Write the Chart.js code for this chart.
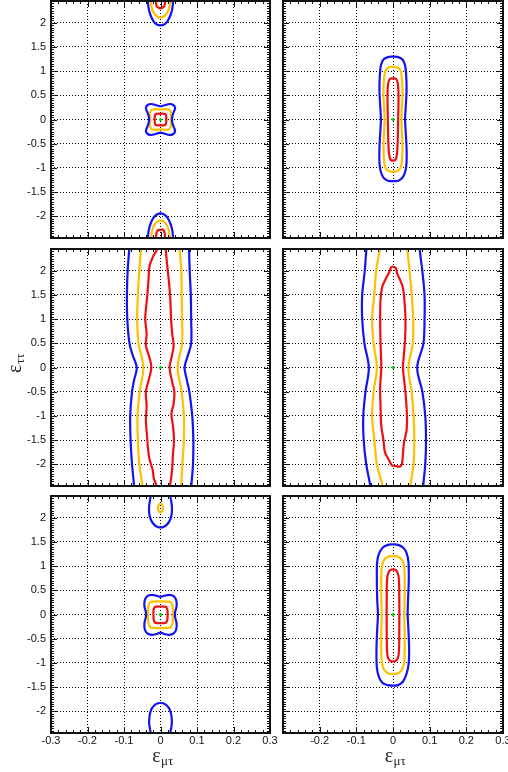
<!DOCTYPE html>
<html>
<head>
<meta charset="utf-8">
<script src="https://cdn.jsdelivr.net/npm/chart.js@4.4.1/dist/chart.umd.min.js"></script>
<style>
  html, body { margin: 0; padding: 0; background: #fff; }
  #wrap { position: relative; width: 508px; height: 772px; overflow: hidden; }
  #wrap canvas { position: absolute; left: 0; top: 0; }
</style>
</head>
<body>
<div id="wrap">
  <canvas id="pA" width="508" height="772"></canvas>
  <canvas id="pB" width="508" height="772"></canvas>
  <canvas id="pC" width="508" height="772"></canvas>
  <canvas id="pD" width="508" height="772"></canvas>
  <canvas id="pE" width="508" height="772"></canvas>
  <canvas id="pF" width="508" height="772"></canvas>
</div>
<script>
// ---- axes ----
const xRange = [-0.3, 0.3];
const yRange = [-2.45, 2.45];
const xTickValues = [-0.3, -0.2, -0.1, 0, 0.1, 0.2, 0.3];
const yTickValues = [-2, -1.5, -1, -0.5, 0, 0.5, 1, 1.5, 2];
const bestFit = [[0, 0]];

// ---- panel A (top left) ----
const aBlueTop = [[-0.034,2.5],[-0.034,2.4],[-0.032,2.28],[-0.027,2.15],[-0.019,2.03],[-0.01,1.965],[0,1.945],[0.01,1.965],[0.019,2.03],[0.027,2.15],[0.032,2.28],[0.034,2.4],[0.034,2.5]];
const aYellowTop = [[-0.026,2.5],[-0.026,2.4],[-0.023,2.28],[-0.016,2.18],[-0.008,2.125],[0,2.11],[0.008,2.125],[0.016,2.18],[0.023,2.28],[0.026,2.4],[0.026,2.5]];
const aRedTop = [[-0.012,2.5],[-0.012,2.4],[-0.01,2.34],[-0.005,2.31],[0,2.3],[0.005,2.31],[0.01,2.34],[0.012,2.4],[0.012,2.5]];
const aBlueMid = [[0,0.27],[0.012,0.295],[0.025,0.32],[0.035,0.3],[0.04,0.24],[0.036,0.15],[0.032,0.05],[0.032,-0.05],[0.036,-0.15],[0.04,-0.24],[0.035,-0.3],[0.025,-0.32],[0.012,-0.295],[0,-0.27],[-0.012,-0.295],[-0.025,-0.32],[-0.035,-0.3],[-0.04,-0.24],[-0.036,-0.15],[-0.032,-0.05],[-0.032,0.05],[-0.036,0.15],[-0.04,0.24],[-0.035,0.3],[-0.025,0.32],[-0.012,0.295],[0,0.27]];
const aYellowMid = [[0,0.205],[0.014,0.215],[0.024,0.2],[0.029,0.13],[0.028,0],[0.029,-0.13],[0.024,-0.2],[0.014,-0.215],[0,-0.205],[-0.014,-0.215],[-0.024,-0.2],[-0.029,-0.13],[-0.028,0],[-0.029,0.13],[-0.024,0.2],[-0.014,0.215],[0,0.205]];
const aRedMid = [[0,0.12],[0.011,0.115],[0.015,0.09],[0.016,0],[0.015,-0.09],[0.011,-0.115],[0,-0.12],[-0.011,-0.115],[-0.015,-0.09],[-0.016,0],[-0.015,0.09],[-0.011,0.115],[0,0.12]];
const aBlueBot = [[-0.034,-2.5],[-0.034,-2.4],[-0.032,-2.28],[-0.027,-2.15],[-0.019,-2.03],[-0.01,-1.965],[0,-1.94],[0.01,-1.965],[0.019,-2.03],[0.027,-2.15],[0.032,-2.28],[0.034,-2.4],[0.034,-2.5]];
const aYellowBot = [[-0.025,-2.5],[-0.025,-2.4],[-0.022,-2.27],[-0.015,-2.16],[-0.007,-2.1],[0,-2.09],[0.007,-2.1],[0.015,-2.16],[0.022,-2.27],[0.025,-2.4],[0.025,-2.5]];
const aRedBot = [[-0.012,-2.5],[-0.012,-2.4],[-0.01,-2.32],[-0.005,-2.28],[0,-2.29],[0.005,-2.27],[0.01,-2.31],[0.012,-2.4],[0.012,-2.5]];

// ---- panel B (top right) ----
const bBlue = [[0,1.3],[0.014,1.29],[0.026,1.24],[0.033,1.12],[0.036,0.9],[0.037,0.6],[0.035,0.3],[0.033,0],[0.035,-0.3],[0.037,-0.6],[0.037,-0.88],[0.034,-1.06],[0.026,-1.2],[0.014,-1.265],[0,-1.275],[-0.014,-1.265],[-0.026,-1.2],[-0.034,-1.06],[-0.037,-0.88],[-0.037,-0.6],[-0.035,-0.3],[-0.033,0],[-0.035,0.3],[-0.037,0.6],[-0.036,0.9],[-0.033,1.12],[-0.026,1.24],[-0.014,1.29],[0,1.3]];
const bYellow = [[0,1.09],[0.012,1.075],[0.021,1.0],[0.025,0.8],[0.026,0.5],[0.024,0.2],[0.023,0],[0.024,-0.2],[0.026,-0.5],[0.025,-0.8],[0.021,-0.99],[0.012,-1.065],[0,-1.08],[-0.012,-1.065],[-0.021,-0.99],[-0.025,-0.8],[-0.026,-0.5],[-0.024,-0.2],[-0.023,0],[-0.024,0.2],[-0.026,0.5],[-0.025,0.8],[-0.021,1.0],[-0.012,1.075],[0,1.09]];
const bRed = [[0,0.855],[0.008,0.84],[0.013,0.75],[0.015,0.5],[0.014,0],[0.013,-0.4],[0.011,-0.7],[0.007,-0.83],[0,-0.85],[-0.007,-0.83],[-0.011,-0.7],[-0.013,-0.4],[-0.014,0],[-0.015,0.5],[-0.013,0.75],[-0.008,0.84],[0,0.855]];

// ---- panel C (middle left) ----
const cBlueL = [[-0.085,2.5],[-0.086,2.4],[-0.09,2.0],[-0.092,1.5],[-0.091,1.0],[-0.085,0.5],[-0.076,0.25],[-0.065,0],[-0.072,-0.25],[-0.078,-0.5],[-0.083,-1.0],[-0.082,-1.5],[-0.078,-2.0],[-0.073,-2.4],[-0.072,-2.5]];
const cBlueR = [[0.078,2.5],[0.08,2.0],[0.083,1.5],[0.084,1.0],[0.084,0.5],[0.075,0.25],[0.066,0],[0.072,-0.25],[0.079,-0.5],[0.087,-1.0],[0.09,-1.5],[0.089,-2.0],[0.085,-2.4],[0.084,-2.5]];
const cYellowL = [[-0.053,2.5],[-0.054,2.4],[-0.058,2.0],[-0.062,1.5],[-0.064,1.0],[-0.06,0.5],[-0.047,0],[-0.057,-0.5],[-0.063,-1.0],[-0.062,-1.5],[-0.058,-2.0],[-0.05,-2.4],[-0.047,-2.5]];
const cYellowR = [[0.052,2.5],[0.054,2.3],[0.057,2.0],[0.058,1.5],[0.059,1.0],[0.059,0.5],[0.047,0],[0.058,-0.5],[0.064,-1.0],[0.064,-1.5],[0.06,-2.0],[0.057,-2.4],[0.057,-2.5]];
const cRedL = [[-0.007,2.5],[-0.01,2.43],[-0.02,2.3],[-0.03,2.1],[-0.033,1.8],[-0.036,1.5],[-0.04,1.2],[-0.042,1.0],[-0.038,0.7],[-0.04,0.45],[-0.03,0.2],[-0.025,0],[-0.032,-0.25],[-0.04,-0.5],[-0.038,-0.8],[-0.04,-1.1],[-0.037,-1.4],[-0.034,-1.7],[-0.03,-1.9],[-0.022,-2.1],[-0.018,-2.3],[-0.012,-2.42],[-0.01,-2.5]];
const cRedR = [[0.014,2.5],[0.016,2.3],[0.02,2.0],[0.024,1.7],[0.027,1.4],[0.029,1.0],[0.032,0.7],[0.036,0.45],[0.03,0.2],[0.025,0],[0.032,-0.3],[0.038,-0.5],[0.036,-0.75],[0.03,-0.95],[0.034,-1.2],[0.037,-1.5],[0.034,-1.8],[0.032,-2.1],[0.028,-2.35],[0.024,-2.5]];

// ---- panel D (middle right) ----
const dBlueL = [[-0.071,2.5],[-0.073,2.4],[-0.077,2.0],[-0.084,1.5],[-0.084,1.0],[-0.078,0.5],[-0.066,0],[-0.075,-0.5],[-0.081,-1.0],[-0.08,-1.5],[-0.073,-2.0],[-0.063,-2.4],[-0.062,-2.5]];
const dBlueR = [[0.072,2.5],[0.075,2.3],[0.08,2.0],[0.086,1.5],[0.086,1.0],[0.083,0.5],[0.066,0],[0.08,-0.5],[0.088,-1.0],[0.09,-1.5],[0.088,-2.0],[0.083,-2.4],[0.083,-2.5]];
const dYellowL = [[-0.035,2.5],[-0.038,2.35],[-0.046,2.0],[-0.051,1.5],[-0.057,1.0],[-0.053,0.5],[-0.044,0],[-0.053,-0.5],[-0.057,-1.0],[-0.051,-1.5],[-0.044,-2.0],[-0.03,-2.4],[-0.027,-2.5]];
const dYellowR = [[0.038,2.5],[0.041,2.3],[0.045,2.0],[0.051,1.5],[0.055,1.0],[0.054,0.5],[0.042,0],[0.051,-0.5],[0.056,-1.0],[0.058,-1.5],[0.056,-2.0],[0.048,-2.4],[0.047,-2.5]];
const dRed = [[0,2.09],[0.008,2.05],[0.011,1.95],[0.017,1.85],[0.027,1.65],[0.031,1.4],[0.034,1.0],[0.033,0.6],[0.029,0.2],[0.027,0],[0.031,-0.3],[0.035,-0.6],[0.038,-1.0],[0.037,-1.3],[0.03,-1.55],[0.027,-1.8],[0.024,-2.0],[0.018,-2.05],[0.008,-2.04],[-0.003,-2.02],[-0.012,-1.9],[-0.022,-1.75],[-0.026,-1.5],[-0.032,-1.2],[-0.034,-0.8],[-0.035,-0.4],[-0.032,0],[-0.034,0.5],[-0.035,1.0],[-0.034,1.4],[-0.03,1.65],[-0.022,1.8],[-0.012,1.95],[-0.005,2.07],[0,2.09]];

// ---- panel E (bottom left) ----
const eBlueTop = [[-0.026,2.5],[-0.028,2.4],[-0.031,2.25],[-0.031,2.1],[-0.027,1.97],[-0.018,1.86],[-0.008,1.81],[0,1.8],[0.008,1.81],[0.018,1.86],[0.027,1.97],[0.031,2.1],[0.031,2.25],[0.028,2.4],[0.026,2.5]];
const eYellowTop = [[0,2.29],[0.005,2.265],[0.0068,2.2],[0.005,2.135],[0,2.11],[-0.005,2.135],[-0.0068,2.2],[-0.005,2.265],[0,2.29]];
const eBlueMid = [[0,0.36],[0.012,0.39],[0.024,0.405],[0.036,0.38],[0.043,0.3],[0.044,0.17],[0.04,0.05],[0.04,-0.05],[0.044,-0.18],[0.043,-0.31],[0.036,-0.39],[0.024,-0.42],[0.012,-0.405],[0,-0.375],[-0.012,-0.405],[-0.024,-0.42],[-0.036,-0.39],[-0.043,-0.31],[-0.044,-0.18],[-0.04,-0.05],[-0.04,0.05],[-0.044,0.17],[-0.043,0.3],[-0.036,0.38],[-0.024,0.405],[-0.012,0.39],[0,0.36]];
const eYellowMid = [[0,0.27],[0.018,0.268],[0.028,0.25],[0.033,0.18],[0.034,0],[0.033,-0.18],[0.028,-0.26],[0.018,-0.278],[0,-0.28],[-0.018,-0.278],[-0.028,-0.26],[-0.033,-0.18],[-0.034,0],[-0.033,0.18],[-0.028,0.25],[-0.018,0.268],[0,0.27]];
const eRedMid = [[0,0.165],[0.01,0.163],[0.016,0.15],[0.019,0.09],[0.019,-0.09],[0.016,-0.16],[0.01,-0.178],[0,-0.18],[-0.01,-0.178],[-0.016,-0.16],[-0.019,-0.09],[-0.019,0.09],[-0.016,0.15],[-0.01,0.163],[0,0.165]];
const eBlueBot = [[-0.026,-2.5],[-0.028,-2.4],[-0.031,-2.25],[-0.03,-2.1],[-0.025,-1.96],[-0.016,-1.87],[-0.007,-1.835],[0,-1.83],[0.007,-1.835],[0.016,-1.87],[0.025,-1.96],[0.03,-2.1],[0.031,-2.25],[0.028,-2.4],[0.026,-2.5]];

// ---- panel F (bottom right) ----
const fBlue = [[0,1.45],[0.014,1.44],[0.028,1.38],[0.037,1.27],[0.042,1.1],[0.043,0.7],[0.041,0.3],[0.04,0],[0.042,-0.3],[0.044,-0.7],[0.043,-1.0],[0.038,-1.2],[0.028,-1.38],[0.014,-1.46],[0,-1.47],[-0.014,-1.46],[-0.028,-1.42],[-0.038,-1.3],[-0.044,-1.1],[-0.045,-0.7],[-0.043,-0.3],[-0.041,0],[-0.043,0.3],[-0.044,0.7],[-0.043,1.1],[-0.037,1.28],[-0.027,1.39],[-0.014,1.44],[0,1.45]];
const fYellow = [[0,1.21],[0.014,1.195],[0.025,1.12],[0.031,0.95],[0.032,0.5],[0.031,0],[0.032,-0.5],[0.031,-0.95],[0.025,-1.13],[0.014,-1.215],[0,-1.23],[-0.014,-1.215],[-0.025,-1.13],[-0.031,-0.95],[-0.032,-0.5],[-0.031,0],[-0.032,0.5],[-0.031,0.95],[-0.025,1.12],[-0.014,1.195],[0,1.21]];
const fRed = [[0,0.935],[0.009,0.91],[0.015,0.8],[0.017,0.5],[0.017,-0.5],[0.015,-0.85],[0.009,-0.95],[0,-0.97],[-0.009,-0.95],[-0.015,-0.85],[-0.017,-0.5],[-0.017,0.5],[-0.015,0.8],[-0.009,0.91],[0,0.935]];

// ---- styling / layout ----
const BLUE = '#1414f0', YELLOW = '#ffc000', RED = '#f01010', GREEN = '#00dd00';
const W = 508, H = 772;
const TICK_FONT = { family: "'Liberation Sans', Arial, sans-serif", size: 11 };

const fmt = v => String(Math.round(v * 10) / 10);

// frame with inward ticks on all four sides, ROOT style
const framePlugin = {
  id: 'frame',
  afterDatasetsDraw(chart) {
    const { ctx, chartArea: a, scales: { x, y } } = chart;
    ctx.save();
    ctx.strokeStyle = '#111';
    ctx.lineWidth = 1;
    ctx.beginPath();
    for (let k = -15; k <= 15; k++) {
      const px = Math.round(x.getPixelForValue(k * 0.02)) + 0.5;
      const len = k % 5 === 0 ? 6 : 3;
      ctx.moveTo(px, a.bottom); ctx.lineTo(px, a.bottom - len);
      ctx.moveTo(px, a.top); ctx.lineTo(px, a.top + len);
    }
    for (let k = -49; k <= 49; k++) {
      const py = Math.round(y.getPixelForValue(k * 0.05)) + 0.5;
      const len = k % 10 === 0 ? 6 : 3;
      ctx.moveTo(a.left, py); ctx.lineTo(a.left + len, py);
      ctx.moveTo(a.right, py); ctx.lineTo(a.right - len, py);
    }
    ctx.stroke();
    ctx.lineWidth = 2;
    ctx.strokeRect(a.left, a.top, a.right - a.left, a.bottom - a.top);
    ctx.restore();
  }
};

function drawEps(ctx, x, y, sub) {
  ctx.font = "20px 'Liberation Serif', 'DejaVu Serif', serif";
  const w1 = ctx.measureText('\u03b5').width;
  ctx.font = "13px 'Liberation Serif', 'DejaVu Serif', serif";
  const w2 = ctx.measureText(sub).width;
  const x0 = x - (w1 + w2) / 2;
  ctx.font = "20px 'Liberation Serif', 'DejaVu Serif', serif";
  ctx.fillText('\u03b5', x0, y);
  ctx.font = "13px 'Liberation Serif', 'DejaVu Serif', serif";
  ctx.fillText(sub, x0 + w1 + 0.5, y + 3);
}

const xTitlePlugin = {
  id: 'xTitle',
  afterDraw(chart) {
    const { ctx, chartArea: a } = chart;
    ctx.save();
    ctx.fillStyle = '#222';
    ctx.textBaseline = 'alphabetic';
    drawEps(ctx, (a.left + a.right) / 2 + 2, a.bottom + 29, '\u03bc\u03c4');
    ctx.restore();
  }
};

const yTitlePlugin = {
  id: 'yTitle',
  afterDraw(chart) {
    const { ctx, chartArea: a } = chart;
    ctx.save();
    ctx.fillStyle = '#222';
    ctx.translate(a.left - 30.5, (a.top + a.bottom) / 2 - 4);
    ctx.rotate(-Math.PI / 2);
    drawEps(ctx, 0, 0, '\u03c4\u03c4');
    ctx.restore();
  }
};

function makePanel(id, area, lines, opt) {
  const datasets = [{
    data: bestFit.map(p => ({ x: p[0], y: p[1] })),
    showLine: false, pointRadius: 1.6, pointBackgroundColor: GREEN, pointBorderWidth: 0, clip: 0
  }];
  lines.forEach(l => datasets.push({
    data: l.pts.map(p => ({ x: p[0], y: p[1] })),
    showLine: true, borderColor: l.color, borderWidth: 2.2, pointRadius: 0,
    tension: 0.35, fill: false, clip: 0
  }));

  const grid = { color: '#000', lineWidth: 1, drawTicks: false };
  const border = { display: false, dash: [1, 2] };

  // scale boxes hold the label space (labels are clipped to their scale box)
  const yBox = opt.yLabels ? area.l : 0;
  const xBox = opt.xLabels ? H - area.b : 0;

  new Chart(document.getElementById(id), {
    type: 'scatter',
    data: { datasets },
    options: {
      responsive: false,
      animation: false,
      events: [],
      layout: {
        autoPadding: false,
        padding: { left: area.l - yBox, top: area.t, right: W - area.r, bottom: H - area.b - xBox }
      },
      plugins: { legend: { display: false }, tooltip: { enabled: false } },
      scales: {
        x: {
          type: 'linear', min: xRange[0], max: xRange[1],
          afterBuildTicks: s => { s.ticks = xTickValues.map(v => ({ value: v })); },
          afterFit: s => { s.height = xBox; s.paddingLeft = 0; s.paddingRight = 0; },
          grid, border,
          ticks: {
            display: opt.xLabels, autoSkip: false, maxRotation: 0, minRotation: 0, padding: 1,
            font: TICK_FONT, color: '#111',
            callback: (v, i) => (opt.skipFirstX && i === 0) ? '' : fmt(v)
          }
        },
        y: {
          type: 'linear', min: yRange[0], max: yRange[1],
          afterBuildTicks: s => { s.ticks = yTickValues.map(v => ({ value: v })); },
          afterFit: s => { s.width = yBox; s.paddingTop = 0; s.paddingBottom = 0; },
          grid, border,
          ticks: {
            display: opt.yLabels, autoSkip: false, padding: 5,
            font: TICK_FONT, color: '#111',
            callback: v => fmt(v)
          }
        }
      }
    },
    plugins: [framePlugin].concat(opt.extra || [])
  });
}

const colL = { l: 51, r: 270 }, colR = { l: 283, r: 503 };
const row1 = { t: 1, b: 238 }, row2 = { t: 249, b: 486 }, row3 = { t: 496, b: 733 };

makePanel('pA', { ...colL, ...row1 }, [
  { pts: aBlueTop, color: BLUE }, { pts: aYellowTop, color: YELLOW }, { pts: aRedTop, color: RED },
  { pts: aBlueMid, color: BLUE }, { pts: aYellowMid, color: YELLOW }, { pts: aRedMid, color: RED },
  { pts: aBlueBot, color: BLUE }, { pts: aYellowBot, color: YELLOW }, { pts: aRedBot, color: RED }
], { yLabels: true, xLabels: false });

makePanel('pB', { ...colR, ...row1 }, [
  { pts: bBlue, color: BLUE }, { pts: bYellow, color: YELLOW }, { pts: bRed, color: RED }
], { yLabels: false, xLabels: false });

makePanel('pC', { ...colL, ...row2 }, [
  { pts: cBlueL, color: BLUE }, { pts: cBlueR, color: BLUE },
  { pts: cYellowL, color: YELLOW }, { pts: cYellowR, color: YELLOW },
  { pts: cRedL, color: RED }, { pts: cRedR, color: RED }
], { yLabels: true, xLabels: false, extra: [yTitlePlugin] });

makePanel('pD', { ...colR, ...row2 }, [
  { pts: dBlueL, color: BLUE }, { pts: dBlueR, color: BLUE },
  { pts: dYellowL, color: YELLOW }, { pts: dYellowR, color: YELLOW },
  { pts: dRed, color: RED }
], { yLabels: false, xLabels: false });

makePanel('pE', { ...colL, ...row3 }, [
  { pts: eBlueTop, color: BLUE }, { pts: eYellowTop, color: YELLOW },
  { pts: eBlueMid, color: BLUE }, { pts: eYellowMid, color: YELLOW }, { pts: eRedMid, color: RED },
  { pts: eBlueBot, color: BLUE }
], { yLabels: true, xLabels: true, extra: [xTitlePlugin] });

makePanel('pF', { ...colR, ...row3 }, [
  { pts: fBlue, color: BLUE }, { pts: fYellow, color: YELLOW }, { pts: fRed, color: RED }
], { yLabels: false, xLabels: true, skipFirstX: true, extra: [xTitlePlugin] });
</script>
</body>
</html>
